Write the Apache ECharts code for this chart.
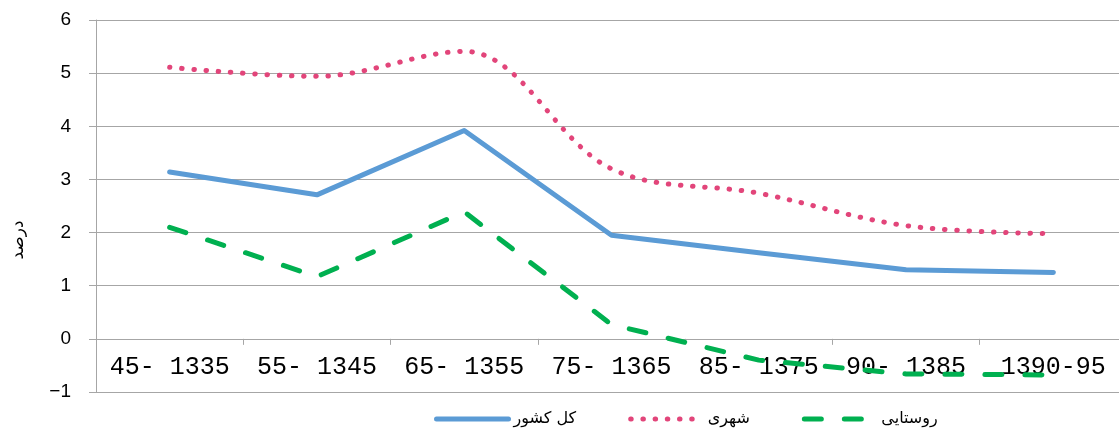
<!DOCTYPE html>
<html>
<head>
<meta charset="utf-8">
<script src="https://cdn.jsdelivr.net/npm/echarts@6/dist/echarts.min.js"></script>
<style>
  html, body { margin: 0; padding: 0; background: #fff; }
  #chart { width: 1119px; height: 437px; }
</style>
</head>
<body>
<div id="chart"></div>
<script>
const categories = ['45- 1335', '55- 1345', '65- 1355', '75- 1365', '85- 1375', '90- 1385', '1390-95']
const kolKeshvar = [3.14, 2.71, 3.92, 1.95, 1.62, 1.30, 1.25]
const shahri = [5.11, 4.94, 5.41, 3.20, 2.74, 2.13, 1.98]
const roostaei = [2.10, 1.17, 2.39, 0.27, -0.40, -0.66, -0.68]
const yTicks = [-1, 0, 1, 2, 3, 4, 5, 6]

const chart = echarts.init(document.getElementById('chart'))

const gridColor = '#a6a6a6'
// plot height / number of units -> pixels between -1 and 0
const unitPx = (437 - 20 - 45) / (yTicks.length - 1)

chart.setOption({
  animation: false,
  grid: {
    left: 96,
    width: 1031,
    top: 20,
    bottom: 45,
    containLabel: false,
    outerBoundsMode: 'none',
  },
  legend: {
    left: 434,
    top: 411,
    padding: 0,
    itemWidth: 72,
    itemHeight: 10,
    itemGap: 52,
    itemStyle: { opacity: 0 },
    lineStyle: { width: 5 },
    textStyle: {
      fontFamily: 'DejaVu Sans',
      fontSize: 16,
      color: '#000',
    },
    data: ['کل کشور', 'شهری', 'روستایی'],
  },
  graphic: [
    {
      type: 'text',
      x: 19,
      y: 240,
      rotation: Math.PI / 2,
      style: {
        text: 'درصد',
        font: '17px "DejaVu Sans"',
        fill: '#000',
        align: 'center',
        verticalAlign: 'middle',
      },
    },
  ],
  xAxis: {
    type: 'category',
    data: categories,
    boundaryGap: true,
    offset: -unitPx,
    axisLine: { onZero: false, lineStyle: { color: gridColor, width: 1 } },
    axisTick: { show: true, length: 6, lineStyle: { color: gridColor } },
    axisLabel: {
      interval: 0,
      margin: 16,
      fontFamily: 'Liberation Mono',
      fontSize: 25,
      color: '#000',
    },
  },
  yAxis: {
    type: 'value',
    min: yTicks[0],
    max: yTicks[yTicks.length - 1],
    interval: 1,
    axisLine: { show: true, lineStyle: { color: gridColor, width: 1 } },
    axisTick: { show: true, length: 7, lineStyle: { color: gridColor } },
    splitLine: { show: true, lineStyle: { color: gridColor, width: 1 } },
    axisLabel: {
      margin: 25,
      fontFamily: 'Liberation Sans',
      fontSize: 19,
      color: '#000',
      formatter: (v) => String(v).replace('-', '\u2212'),
    },
  },
  series: [
    {
      name: 'کل کشور',
      type: 'line',
      data: kolKeshvar,
      symbol: 'none',
      lineStyle: { color: '#5b9bd5', width: 5, cap: 'round', join: 'round' },
      itemStyle: { color: '#5b9bd5' },
    },
    {
      name: 'شهری',
      type: 'line',
      data: shahri,
      smooth: 0.35,
      symbol: 'none',
      lineStyle: { color: '#e2457a', width: 5, type: [0.5, 11.7], cap: 'round' },
      itemStyle: { color: '#e2457a' },
    },
    {
      name: 'روستایی',
      type: 'line',
      data: roostaei,
      symbol: 'none',
      lineStyle: { color: '#00b050', width: 5, type: [17, 23], cap: 'round' },
      itemStyle: { color: '#00b050' },
    },
  ],
})

window.addEventListener('resize', () => chart.resize())
</script>
</body>
</html>
